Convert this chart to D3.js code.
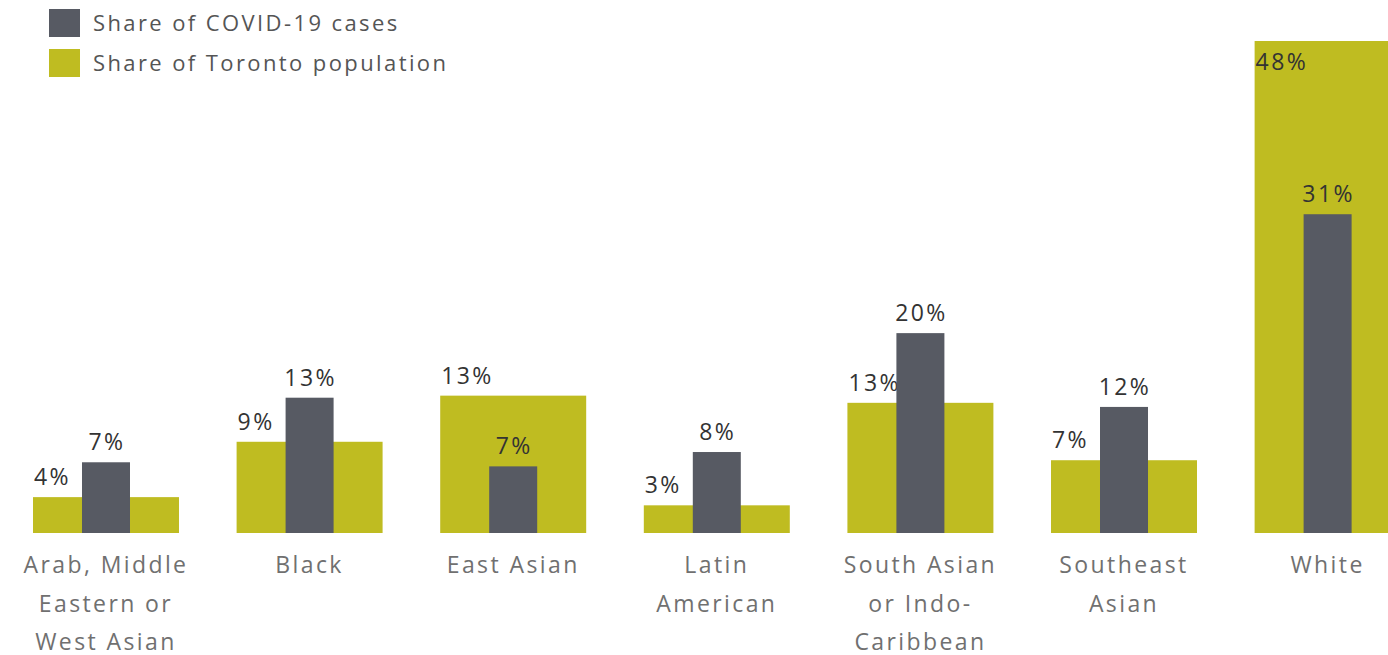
<!DOCTYPE html>
<html>
<head>
<meta charset="utf-8">
<script src="https://cdn.jsdelivr.net/npm/d3@7"></script>
<style>
  body { margin: 0; background: #fff; }
  text { font-family: "Open Sans", sans-serif; letter-spacing: 2.4px; }
</style>
</head>
<body>
<div class="chart"></div>
<script>
// data
const categories = [
  ["Arab, Middle", "Eastern or", "West Asian"],
  ["Black"],
  ["East Asian"],
  ["Latin", "American"],
  ["South Asian", "or Indo-", "Caribbean"],
  ["Southeast", "Asian"],
  ["White"]
];
const popShare   = [3.5, 8.9, 13.4, 2.7, 12.7, 7.1, 48.0];
const covidShare = [6.9, 13.2, 6.5, 7.9, 19.5, 12.3, 31.1];
const legendLabels = ["Share of COVID-19 cases", "Share of Toronto population"];

const W = 1388, H = 655;
const popColor = "#bfbc21", covidColor = "#575a63";

const svg = d3.select(".chart").append("svg")
  .attr("width", W).attr("height", H);

const keys = categories.map(c => c.join(" "));

const x = d3.scaleBand()
  .domain(keys)
  .range([33, 1400.6])
  .paddingInner(0.283)
  .paddingOuter(0);

const y = d3.scaleLinear()
  .domain([0, 48])
  .range([533, 41]);

const covidW = 48;

const rows = keys.map((k, i) => ({ key: k, lines: categories[i], pop: popShare[i], covid: covidShare[i] }));

// population bars (wide)
svg.append("g").selectAll("rect")
  .data(rows).join("rect")
  .attr("x", d => x(d.key))
  .attr("y", d => y(d.pop))
  .attr("width", x.bandwidth())
  .attr("height", d => y(0) - y(d.pop))
  .attr("fill", popColor);

// population labels, left aligned on the bar
svg.append("g").selectAll("text")
  .data(rows).join("text")
  .attr("x", d => x(d.key) + 1)
  .attr("y", d => y(d.pop) - 12 < 30 ? y(d.pop) + 29 : y(d.pop) - 12)
  .attr("font-size", 23)
  .attr("fill", "#333")
  .text(d => Math.round(d.pop) + "%");

// covid bars (narrow, centered)
svg.append("g").selectAll("rect")
  .data(rows).join("rect")
  .attr("x", d => x(d.key) + x.bandwidth() / 2 - covidW / 2)
  .attr("y", d => y(d.covid))
  .attr("width", covidW)
  .attr("height", d => y(0) - y(d.covid))
  .attr("fill", covidColor);

svg.append("g").selectAll("text")
  .data(rows).join("text")
  .attr("x", d => x(d.key) + x.bandwidth() / 2 + 1)
  .attr("y", d => y(d.covid) - 12)
  .attr("text-anchor", "middle")
  .attr("font-size", 23)
  .attr("fill", "#333")
  .text(d => Math.round(d.covid) + "%");

// category labels
const cat = svg.append("g").selectAll("text")
  .data(rows).join("text")
  .attr("x", d => x(d.key) + x.bandwidth() / 2)
  .attr("y", 573)
  .attr("text-anchor", "middle")
  .attr("font-size", 23)
  .attr("fill", "#707070");
cat.selectAll("tspan")
  .data(d => d.lines.map(l => ({ l, cx: x(d.key) + x.bandwidth() / 2 })))
  .join("tspan")
  .attr("x", t => t.cx)
  .attr("dy", (t, i) => i === 0 ? 0 : 38.5)
  .text(t => t.l);

// legend
const legend = svg.append("g").selectAll("g")
  .data(legendLabels).join("g")
  .attr("transform", (d, i) => `translate(49, ${9 + i * 40})`);
legend.append("rect")
  .attr("width", 31).attr("height", 28)
  .attr("fill", (d, i) => i === 0 ? covidColor : popColor);
legend.append("text")
  .attr("x", 44).attr("y", 22)
  .attr("font-size", 22)
  .attr("letter-spacing", 1.6)
  .attr("fill", "#555")
  .text(d => d);
</script>
</body>
</html>
